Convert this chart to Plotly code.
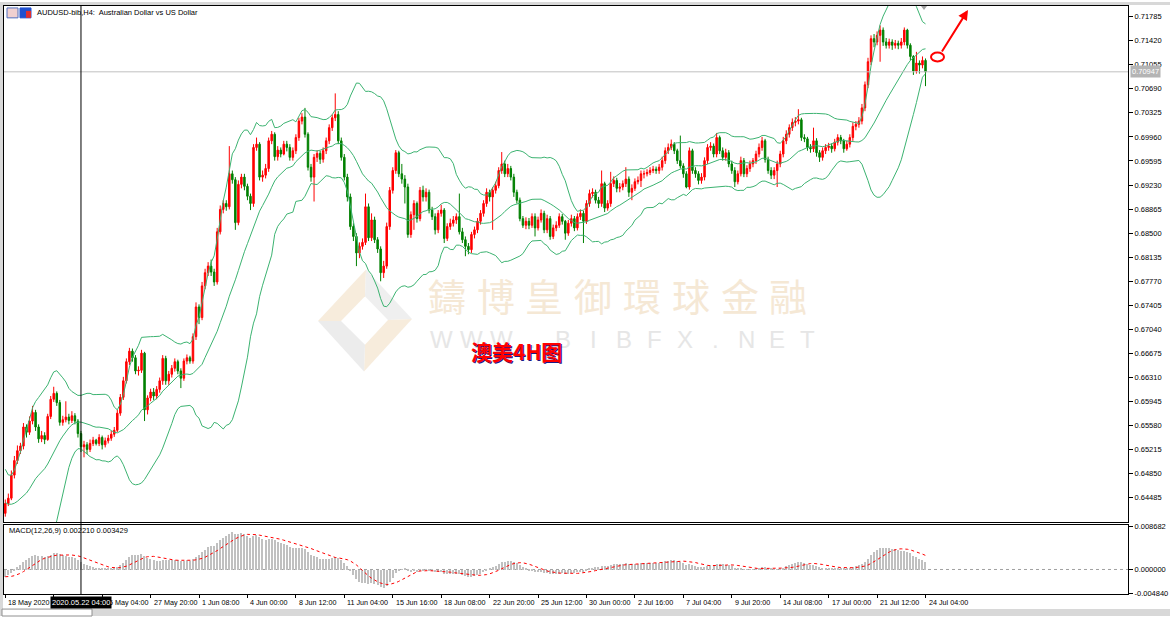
import numpy as np
import plotly.graph_objects as go

W, H = 1170, 620
def px(x): return x / W
def py(y): return 1 - y / H

# ---------------- data (price in units of 0.0001) ----------------
first_open = 6425
close = [
 6440, 6448, 6483, 6505, 6520, 6527, 6556, 6548, 6565, 6578,
 6556, 6538, 6543, 6537, 6572, 6598, 6607, 6593, 6563, 6567,
 6571, 6566, 6573, 6565, 6546, 6526, 6529, 6522, 6531, 6536,
 6531, 6540, 6529, 6535, 6539, 6545, 6551, 6577, 6601, 6626,
 6655, 6671, 6661, 6641, 6642, 6668, 6582, 6600, 6609, 6603,
 6613, 6626, 6660, 6626, 6636, 6645, 6655, 6641, 6630, 6656,
 6661, 6656, 6693, 6738, 6722, 6770, 6790, 6800, 6791, 6776,
 6852, 6886, 6895, 6890, 6940, 6931, 6866, 6924, 6935, 6921,
 6906, 6895, 6980, 6985, 6935, 6938, 6948, 6990, 7000, 6966,
 6976, 6970, 6985, 6980, 6965, 6975, 6995, 7020, 7026, 7000,
 6950, 6935, 6965, 6971, 6962, 6975, 6990, 7010, 7025, 7030,
 6990, 6965, 6935, 6905, 6860, 6845, 6820, 6830, 6836, 6890,
 6843, 6870, 6840, 6826, 6790, 6800, 6860, 6915, 6945, 6972,
 6940, 6932, 6920, 6848, 6878, 6895, 6872, 6915, 6905, 6912,
 6885, 6875, 6855, 6880, 6885, 6842, 6860, 6865, 6870, 6875,
 6852, 6840, 6830, 6825, 6848, 6855, 6868, 6880, 6895, 6912,
 6905, 6915, 6922, 6945, 6955, 6940, 6948, 6935, 6912, 6900,
 6872, 6862, 6868, 6862, 6875, 6858, 6870, 6880, 6855, 6872,
 6845, 6858, 6862, 6875, 6868, 6850, 6865, 6872, 6858, 6875,
 6880, 6868, 6895, 6910, 6912, 6900, 6895, 6925, 6888, 6895,
 6925, 6930, 6918, 6920, 6925, 6932, 6912, 6918, 6928, 6930,
 6940, 6940, 6942, 6945, 6947, 6945, 6950, 6960, 6975, 6980,
 6985, 6975, 6960, 6952, 6940, 6920, 6975, 6945, 6940, 6930,
 6935, 6960, 6980, 6982, 6970, 6995, 6975, 6965, 6972, 6955,
 6945, 6928, 6940, 6960, 6940, 6948, 6955, 6960, 6970, 6980,
 6990, 6962, 6945, 6938, 6945, 6955, 6970, 6990, 7000, 7010,
 7018, 7020, 7022, 6995, 6993, 6980, 6978, 6990, 6972, 6965,
 6975, 6980, 6982, 6978, 6988, 6995, 6990, 6978, 6985, 6995,
 7012, 7015, 7020, 7040, 7075, 7110, 7145, 7140, 7150, 7158,
 7140, 7135, 7140, 7135, 7138, 7135, 7140, 7158, 7135, 7118,
 7096, 7108, 7105, 7112, 7094.7]
high = [
 6446, 6455, 6490, 6512, 6528, 6532, 6562, 6560, 6572, 6588,
 6582, 6560, 6550, 6548, 6576, 6603, 6617, 6610, 6597, 6573,
 6595, 6576, 6580, 6577, 6568, 6550, 6535, 6533, 6537, 6541,
 6538, 6545, 6543, 6540, 6544, 6550, 6556, 6582, 6606, 6632,
 6660, 6676, 6675, 6665, 6648, 6673, 6670, 6604, 6614, 6615,
 6618, 6631, 6665, 6664, 6641, 6650, 6660, 6658, 6645, 6660,
 6666, 6664, 6698, 6745, 6742, 6776, 6796, 6806, 6810, 6796,
 6858, 6892, 6900, 6900, 6982, 6945, 6935, 6930, 6940, 6940,
 6925, 6910, 6985, 6995, 6988, 6945, 6955, 6995, 7005, 7003,
 6982, 6980, 6990, 6990, 6985, 6980, 7000, 7025, 7032, 7040,
 7003, 6955, 6970, 6976, 6975, 6980, 6995, 7015, 7030, 7062,
 7035, 6995, 6970, 6940, 6910, 6865, 6850, 6836, 6842, 6910,
 6895, 6880, 6875, 6844, 6830, 6808, 6866, 6920, 6950, 6976,
 6975, 6955, 6938, 6925, 6883, 6900, 6898, 6920, 6922, 6918,
 6916, 6890, 6880, 6885, 6893, 6888, 6865, 6872, 6876, 6880,
 6910, 6858, 6845, 6835, 6852, 6860, 6873, 6885, 6900, 6918,
 6916, 6920, 6928, 6950, 6973, 6960, 6955, 6952, 6940, 6916,
 6904, 6876, 6874, 6873, 6880, 6880, 6875, 6886, 6884, 6878,
 6876, 6863, 6868, 6880, 6879, 6870, 6870, 6878, 6876, 6880,
 6886, 6884, 6900, 6916, 6918, 6916, 6905, 6945, 6928, 6900,
 6943, 6936, 6934, 6926, 6930, 6950, 6936, 6924, 6933, 6936,
 6945, 6945, 6947, 6950, 6952, 6951, 6955, 6966, 6980, 6986,
 6992, 6988, 6978, 6998, 6956, 6944, 6980, 6978, 6950, 6944,
 6941, 6965, 6985, 6988, 6986, 7002, 6998, 6980, 6978, 6976,
 6960, 6950, 6945, 6966, 6964, 6953, 6960, 6964, 6975, 6986,
 6996, 6993, 6966, 6950, 6950, 6960, 6975, 6996, 7006, 7015,
 7024, 7026, 7038, 7025, 7000, 6996, 6985, 7010, 6994, 6976,
 6980, 6985, 6987, 6986, 6993, 7000, 6999, 6993, 6990, 7000,
 7018, 7020, 7026, 7046, 7080, 7116, 7150, 7152, 7156, 7165,
 7162, 7146, 7145, 7144, 7143, 7142, 7146, 7162, 7160, 7138,
 7120, 7125, 7112, 7118, 7115]
low = [
 6420, 6436, 6445, 6478, 6500, 6515, 6522, 6540, 6544, 6560,
 6550, 6532, 6533, 6530, 6535, 6568, 6594, 6588, 6558, 6558,
 6563, 6560, 6562, 6560, 6540, 6518, 6510, 6515, 6518, 6527,
 6528, 6527, 6522, 6525, 6531, 6535, 6541, 6548, 6573, 6597,
 6622, 6650, 6655, 6636, 6634, 6638, 6565, 6575, 6595, 6597,
 6598, 6608, 6620, 6620, 6620, 6631, 6640, 6636, 6615, 6626,
 6651, 6652, 6652, 6688, 6712, 6718, 6765, 6785, 6785, 6770,
 6772, 6848, 6880, 6884, 6886, 6925, 6855, 6862, 6918, 6915,
 6900, 6885, 6890, 6975, 6930, 6928, 6933, 6943, 6985, 6960,
 6960, 6965, 6968, 6974, 6960, 6960, 6970, 6990, 7015, 6995,
 6945, 6928, 6898, 6958, 6955, 6957, 6970, 6985, 7005, 7020,
 6985, 6960, 6930, 6898, 6855, 6838, 6800, 6812, 6825, 6832,
 6838, 6838, 6835, 6820, 6777, 6782, 6796, 6855, 6910, 6940,
 6935, 6925, 6895, 6843, 6843, 6855, 6866, 6868, 6898, 6898,
 6880, 6870, 6848, 6850, 6875, 6835, 6838, 6855, 6860, 6864,
 6848, 6835, 6815, 6818, 6820, 6842, 6850, 6863, 6875, 6890,
 6898, 6855, 6910, 6918, 6940, 6935, 6935, 6930, 6905, 6895,
 6868, 6858, 6856, 6856, 6858, 6845, 6854, 6866, 6850, 6850,
 6840, 6841, 6853, 6858, 6863, 6840, 6846, 6860, 6853, 6854,
 6870, 6835, 6864, 6890, 6904, 6895, 6888, 6890, 6882, 6884,
 6890, 6920, 6912, 6912, 6915, 6920, 6905, 6900, 6914, 6924,
 6920, 6933, 6936, 6938, 6941, 6940, 6940, 6945, 6955, 6970,
 6976, 6970, 6955, 6948, 6934, 6918, 6916, 6940, 6934, 6924,
 6925, 6930, 6955, 6975, 6965, 6965, 6970, 6960, 6960, 6950,
 6940, 6920, 6924, 6936, 6935, 6935, 6943, 6950, 6955, 6965,
 6975, 6957, 6940, 6932, 6932, 6920, 6950, 6965, 6985, 6995,
 7005, 7012, 7015, 6990, 6988, 6975, 6972, 6973, 6966, 6958,
 6960, 6970, 6975, 6972, 6974, 6983, 6985, 6972, 6975, 6980,
 6990, 7006, 7010, 7015, 7035, 7070, 7105, 7132, 7135, 7110,
 7134, 7130, 7130, 7128, 7130, 7129, 7130, 7135, 7130, 7112,
 7090, 7092, 7092, 7100, 7073]
# closes before the first visible bar (3 May 20:00 .. 17 May 20:00), only to warm up the indicators
pre_close = [
 6420,
 6410, 6400, 6390, 6395, 6410, 6400,
 6420, 6440, 6450, 6445, 6460, 6455,
 6450, 6430, 6420, 6410, 6405, 6420,
 6430, 6440, 6460, 6480, 6470, 6485,
 6500, 6510, 6530, 6520, 6530, 6520,
 6515,
 6525, 6515, 6505, 6500, 6490, 6495,
 6490, 6500, 6495, 6480, 6470, 6490,
 6495, 6485, 6475, 6460, 6450, 6470,
 6460, 6435, 6420, 6410, 6430, 6445,
 6440, 6430, 6425, 6415, 6405, 6410,
 6425]

y_tick_labels = ["0.64485", "0.64850", "0.65215", "0.65580", "0.65945", "0.66310",
                 "0.66675", "0.67040", "0.67405", "0.67770", "0.68135", "0.68500",
                 "0.68865", "0.69230", "0.69595", "0.69960", "0.70325", "0.70690",
                 "0.71055", "0.71420", "0.71785"]
macd_tick_labels = ["0.008682", "0.000000", "-0.004840"]
x_tick_bars = [0, 16, 32, 48, 64, 80, 96, 112, 128, 144, 160, 176, 192, 208, 224, 240, 256, 272, 288, 304]
x_tick_labels = ["18 May 2020", "20 May 16:00", "25 May 04:00", "27 May 20:00", "1 Jun 08:00",
                 "4 Jun 00:00", "8 Jun 12:00", "11 Jun 04:00", "15 Jun 16:00", "18 Jun 08:00",
                 "22 Jun 20:00", "25 Jun 12:00", "30 Jun 00:00", "2 Jul 16:00", "7 Jul 04:00",
                 "9 Jul 20:00", "14 Jul 08:00", "17 Jul 00:00", "21 Jul 12:00", "24 Jul 04:00"]
hidden_x_labels = ["20 May 16:00"]   # covered by the crosshair date box in the reference
last_price = "0.70947"
crosshair_bar = 25
crosshair_label = "2020.05.22 04:00"
title_text = "AUDUSD-bib,H4:  Australian Dollar vs US Dollar"
macd_text = "MACD(12,26,9) 0.002210 0.003429"
wm_cn = "鑄博皇御環球金融"
wm_en = "WWW.BIBFX.NET"
label_cn = "澳美4H图"

# ---------------- derived ----------------
n = len(close)
idx = list(range(n))
c = np.array(close, dtype=float) / 1e4
o = np.array([first_open] + close[:-1], dtype=float) / 1e4
h = np.array(high, dtype=float) / 1e4
l = np.array(low, dtype=float) / 1e4
allc = np.array(pre_close + close, dtype=float) / 1e4
npre = len(pre_close)

mid, up, dn = [], [], []
for i in range(npre, len(allc)):
    w = allc[i - 19:i + 1]
    m = w.mean(); s = w.std()
    mid.append(m); up.append(m + 2 * s); dn.append(m - 2 * s)

def ema(a, p):
    k = 2.0 / (p + 1); out = np.empty_like(a); out[0] = a[0]
    for i in range(1, len(a)):
        out[i] = a[i] * k + out[i - 1] * (1 - k)
    return out
macd_all = ema(allc, 12) - ema(allc, 26)
sig_all = np.array([macd_all[max(0, i - 8):i + 1].mean() for i in range(len(macd_all))])
macd = macd_all[npre:]
sig = sig_all[npre:]

# ---------------- figure ----------------
FONT = "Liberation Sans"
FS = 7.5
band_col = "#3CB371"
fig = go.Figure()
for band in (up, mid, dn):
    fig.add_trace(go.Scatter(x=idx, y=band, mode="lines", line=dict(color=band_col, width=1),
                             hoverinfo="skip", xaxis="x", yaxis="y"))
fig.add_trace(go.Candlestick(x=idx, open=o, high=h, low=l, close=c,
                             increasing=dict(line=dict(color="#FF0000", width=1), fillcolor="#FF0000"),
                             decreasing=dict(line=dict(color="#008000", width=1), fillcolor="#008000"),
                             whiskerwidth=0, xaxis="x", yaxis="y"))
fig.add_trace(go.Bar(x=idx, y=macd, marker=dict(color="#C0C0C0", line=dict(width=0)), width=0.4,
                     xaxis="x2", yaxis="y2"))
fig.add_trace(go.Scatter(x=idx, y=sig, mode="lines", line=dict(color="#FF0000", width=1, dash="dot"),
                         xaxis="x2", yaxis="y2"))

xr = [(4 - 5.3) / 3.027, (1128 - 5.3) / 3.027]
ytv = [float(t) for t in y_tick_labels]
shapes, ann = [], []

def note(x, y, text, xref="paper", yref="paper", xanchor="center", yanchor="middle", **kw):
    d = dict(x=x, y=y, xref=xref, yref=yref, text=text, showarrow=False,
             xanchor=xanchor, yanchor=yanchor)
    d.update(kw)
    ann.append(d)

# window frame
shapes.append(dict(type="rect", xref="paper", yref="paper", x0=0, x1=1, y0=py(3), y1=1,
                   fillcolor="#D8D8D8", line=dict(width=0), layer="below"))
shapes.append(dict(type="rect", xref="paper", yref="paper", x0=0, x1=px(3), y0=0, y1=1,
                   fillcolor="#D8D8D8", line=dict(width=0), layer="below"))
shapes.append(dict(type="rect", xref="paper", yref="paper", x0=0, x1=1, y0=0, y1=py(613),
                   fillcolor="#D8D8D8", line=dict(width=0), layer="below"))
shapes.append(dict(type="rect", xref="paper", yref="paper", x0=px(2), x1=px(92), y0=0, y1=py(613),
                   fillcolor="#FFFFFF", line=dict(color="#909090", width=1), layer="below"))

# logo watermark
def path(pts):
    return "M " + " L ".join(f"{px(a)},{py(b)}" for a, b in pts) + " Z"
L_, T_, R_, B_ = (318, 322), (366, 270), (412, 320), (364, 373)
l_, t_, r_, b_ = (341, 322), (365, 297), (388, 321), (365, 346)
for pts, col in (([L_, T_, t_, l_], "#F7ECDC"), ([T_, R_, r_, t_], "#EFEFEF"),
                 ([R_, B_, b_, r_], "#F7ECDC"), ([B_, L_, l_, b_], "#ECECEC")):
    shapes.append(dict(type="path", xref="paper", yref="paper", path=path(pts),
                       fillcolor=col, line=dict(width=0), layer="below"))

# last price line
shapes.append(dict(type="line", xref="paper", yref="y", x0=px(4), x1=px(1128),
                   y0=float(last_price), y1=float(last_price), line=dict(color="#C0C0C0", width=1)))
# MACD zero level
shapes.append(dict(type="line", xref="paper", yref="y2", x0=px(4), x1=px(1128), y0=0, y1=0,
                   line=dict(color="#A0A0A0", width=1, dash="dot"), layer="below"))
# crosshair
shapes.append(dict(type="line", xref="x", yref="paper", x0=crosshair_bar, x1=crosshair_bar,
                   y0=py(598), y1=py(4), line=dict(color="#000000", width=1)))
# ellipse
shapes.append(dict(type="circle", xref="paper", yref="paper", x0=px(931), x1=px(944),
                   y0=py(60), y1=py(51), line=dict(color="#FF0000", width=2)))
# shift marker
shapes.append(dict(type="path", xref="paper", yref="paper",
                   path=path([(921, 4), (927, 4), (924, 8)]), fillcolor="#A0A0A0", line=dict(width=0)))
# icons
shapes.append(dict(type="rect", xref="paper", yref="paper", x0=px(7), x1=px(18), y0=py(16), y1=py(6),
                   fillcolor="#F0D0D0", line=dict(color="#5070C0", width=1)))
shapes.append(dict(type="rect", xref="paper", yref="paper", x0=px(20), x1=px(31), y0=py(16), y1=py(6),
                   fillcolor="#2050D0", line=dict(color="#2050D0", width=1)))
shapes.append(dict(type="rect", xref="paper", yref="paper", x0=px(26), x1=px(31), y0=py(16), y1=py(9),
                   fillcolor="#E03030", line=dict(width=0)))

for k, ch in enumerate(wm_cn):
    note(px(446.7 + 48.8 * k), py(295), ch,
         font=dict(family="Noto Sans CJK TC", size=38, color="#F5E8D5"))
for k, ch in enumerate(wm_en):
    note(px(441 + 30.5 * k), py(341), ch, font=dict(family=FONT, size=24, color="#E6E6E6"))
note(px(516), py(352), "<b>" + label_cn + "</b>", xshift=1, yshift=-1,
     font=dict(family="Noto Sans CJK SC", size=21, color="#1A1A8A"))
note(px(516), py(352), "<b>" + label_cn + "</b>",
     font=dict(family="Noto Sans CJK SC", size=21, color="#FF0000"))
# arrow
ann.append(dict(x=px(968), y=py(8), xref="paper", yref="paper", text="", showarrow=True,
                ax=-27, ay=43, arrowcolor="#FF0000", arrowwidth=2, arrowhead=2, arrowsize=1))
note(px(35), py(11), title_text, xanchor="left", font=dict(family=FONT, size=FS, color="#000000"))
note(px(7), py(534), macd_text, xanchor="left", font=dict(family=FONT, size=FS, color="#000000"))
for b, t in zip(x_tick_bars, x_tick_labels):
    if t in hidden_x_labels:
        continue
    note(b, py(606), t, xref="x2", xanchor="left", xshift=1,
         font=dict(family=FONT, size=7.2, color="#000000"))
note(crosshair_bar, py(606), crosshair_label, xref="x2", bgcolor="#000000", borderpad=1,
     font=dict(family=FONT, size=FS, color="#FFFFFF"))
note(px(1130), float(last_price), last_price, yref="y", xanchor="left", bgcolor="#B4B4B4",
     borderpad=1, font=dict(family=FONT, size=FS, color="#FFFFFF"))

axis_common = dict(showgrid=False, zeroline=False)
fig.update_layout(
    width=W, height=H, margin=dict(l=0, r=0, t=0, b=0),
    paper_bgcolor="#FFFFFF", plot_bgcolor="#FFFFFF", showlegend=False,
    xaxis=dict(domain=[px(4), px(1128)], range=xr, anchor="y", showticklabels=False, ticks="",
               showline=True, mirror=True, linecolor="#000000", linewidth=1,
               rangeslider=dict(visible=False), **axis_common),
    yaxis=dict(domain=[py(525), py(4)], range=[0.64120, 0.71946], anchor="x", side="right",
               tickvals=ytv, ticktext=y_tick_labels, ticks="outside", ticklen=4, tickcolor="#000000",
               tickfont=dict(family=FONT, size=FS, color="#000000"),
               showline=True, mirror=True, linecolor="#000000", linewidth=1, **axis_common),
    xaxis2=dict(domain=[px(4), px(1128)], range=xr, anchor="y2", showticklabels=False,
                tickvals=x_tick_bars, ticks="outside", ticklen=3, tickcolor="#000000",
                showline=True, mirror=True, linecolor="#000000", linewidth=1, **axis_common),
    yaxis2=dict(domain=[py(598), py(528)], range=[-0.005042, 0.009086], anchor="x2", side="right",
                tickvals=[float(t) for t in macd_tick_labels], ticktext=macd_tick_labels,
                ticks="outside", ticklen=4, tickcolor="#000000",
                tickfont=dict(family=FONT, size=FS, color="#000000"),
                showline=True, mirror=True, linecolor="#000000", linewidth=1, **axis_common),
    shapes=shapes, annotations=ann, bargap=0,
)
page_fix = (
    "var e=[document.documentElement, document.body];"
    "e.forEach(function(n){n.style.margin='0';n.style.padding='0';n.style.overflow='hidden';});"
    "var gd=document.getElementById('{plot_id}');"
    "var vw=window.innerWidth, vh=window.innerHeight;"
    "if(gd && vw>600 && vh>300 && (vw!=1170 || vh!=620)){"
    "gd.style.width=vw+'px'; gd.style.height=vh+'px';"
    "Plotly.relayout(gd,{width:vw,height:vh});}"
)
fig.write_html("out.html", config={"displayModeBar": False}, post_script=page_fix)
